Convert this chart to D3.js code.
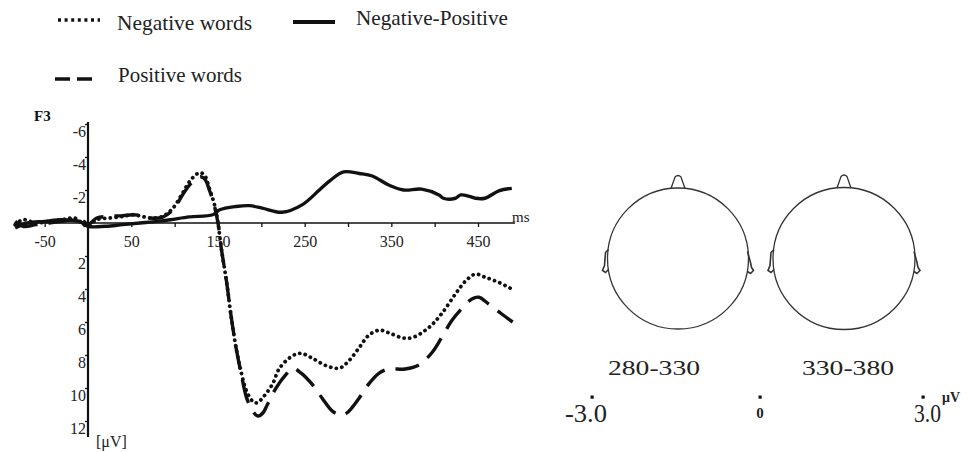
<!DOCTYPE html>
<html>
<head>
<meta charset="utf-8">
<script src="https://cdn.jsdelivr.net/npm/d3@7"></script>
<style>
  body { margin: 0; background: #fff; }
  svg { display: block; font-family: "Liberation Serif", "DejaVu Serif", serif; }
</style>
</head>
<body>
<svg id="chart" width="968" height="452"></svg>
<script>
// ERP at F3, time in ms, amplitude in microvolts (negative up)
var negWords = [
  [-84, 0.1], [-75, -0.2], [-60, 0], [-45, -0.1], [-30, -0.2], [-15, -0.3], [-5, 0.1], [0, 0.2],
  [10, -0.2], [25, -0.3], [40, -0.4], [52, -0.5], [62, -0.4], [72, -0.3], [86, -0.4], [98, -0.9],
  [109, -1.8], [117, -2.5], [125, -2.95], [130, -3.05], [135, -2.85], [140, -2.1], [146, -1.1],
  [150, 0], [154, 1.6], [160, 3.6], [165, 5.6], [171, 7.6], [177, 9.1], [183, 10.2], [190, 10.8],
  [195, 10.9], [203, 10.5], [213, 9.75], [221, 8.8], [236, 8.05], [246, 7.9], [259, 8.2],
  [275, 8.65], [290, 8.8], [301, 8.35], [313, 7.55], [324, 6.8], [336, 6.5], [347, 6.65],
  [362, 6.95], [374, 6.95], [393, 6.35], [408, 5.5], [424, 4.3], [436, 3.5], [447, 3.1],
  [459, 3.3], [474, 3.6], [489, 4.0]
];
var posWords = [
  [-84, -0.1], [-75, 0.2], [-60, 0.1], [-45, 0], [-30, -0.1], [-15, -0.2], [-5, -0.1], [0, 0.1],
  [10, -0.3], [25, -0.4], [40, -0.45], [52, -0.5], [62, -0.45], [72, -0.3], [86, -0.35], [98, -0.8],
  [109, -1.7], [117, -2.3], [125, -2.7], [130, -2.8], [135, -2.65], [140, -2.0], [146, -1.0],
  [150, 0], [154, 1.6], [160, 3.6], [165, 5.6], [171, 7.6], [177, 9.2], [183, 10.6], [190, 11.4],
  [196, 11.7], [202, 11.5], [207, 11.0], [217, 10.0], [229, 9.15], [236, 8.8], [246, 9.1],
  [259, 9.8], [270, 10.6], [282, 11.4], [292, 11.65], [299, 11.5], [313, 10.6], [324, 9.75],
  [336, 9.1], [347, 8.85], [366, 8.85], [382, 8.6], [397, 7.85], [408, 6.95], [420, 5.9],
  [431, 5.2], [443, 4.6], [451, 4.5], [462, 4.9], [477, 5.5], [490, 6.0]
];
var diffWave = [
  [-84, 0.3], [-70, 0], [-50, -0.1], [-30, -0.2], [-10, -0.1], [0, 0.2], [20, 0.2], [40, 0.1],
  [60, 0], [80, -0.1], [95, -0.2], [117, -0.37], [144, -0.5], [152, -0.8], [171, -1.0],
  [186, -1.05], [201, -0.9], [224, -0.65], [247, -1.1], [267, -2.0], [280, -2.6], [295, -3.1],
  [313, -3.0], [328, -2.85], [347, -2.3], [364, -2.0], [385, -2.05], [405, -1.7], [410, -1.5],
  [424, -1.5], [430, -1.7], [441, -1.6], [447, -1.5], [458, -1.5], [474, -1.95], [489, -2.1]
];

var xTicks = [-50, 0, 50, 100, 150, 200, 250, 300, 350, 400, 450];
var xLabels = [-50, 50, 150, 250, 350, 450];
var yTicks = [-6, -4, -2, 2, 4, 6, 8, 10, 12];

var mapLabels = ["280-330", "330-380"];
var scaleLabels = ["-3.0", "0", "3.0"];

var svg = d3.select("#chart");
svg.append("rect").attr("width", 968).attr("height", 452).attr("fill", "#fff");

var x = d3.scaleLinear().domain([0, 450]).range([88, 478]);
var y = d3.scaleLinear().domain([0, 12]).range([223, 421]);

// axes lines
svg.append("line").attr("x1", x(-84)).attr("x2", 515).attr("y1", y(0)).attr("y2", y(0))
  .attr("stroke", "#111").attr("stroke-width", 1.6);
svg.append("line").attr("x1", x(0)).attr("x2", x(0)).attr("y1", 122).attr("y2", 437)
  .attr("stroke", "#111").attr("stroke-width", 2.2);

var xAxis = d3.axisBottom(x).tickValues(xTicks).tickSize(4)
  .tickFormat(d => xLabels.indexOf(d) >= 0 ? d : "");
var gx = svg.append("g").attr("transform", "translate(0," + y(0) + ")").call(xAxis);
gx.select(".domain").remove();
gx.selectAll("line").attr("stroke", "#111").attr("stroke-width", 1.3);
gx.selectAll("text").attr("y", 24).attr("dy", null)
  .attr("font-family", "Liberation Serif").attr("font-size", 16).attr("fill", "#222");

var yAxis = d3.axisLeft(y).tickValues(yTicks).tickSize(3).tickFormat(d => d);
var gy = svg.append("g").attr("transform", "translate(" + x(0) + ",0)").call(yAxis);
gy.select(".domain").remove();
gy.selectAll("line").attr("stroke", "#111").attr("stroke-width", 1.3);
gy.selectAll("text").attr("x", -2).attr("dy", null).attr("y", 12)
  .attr("font-family", "Liberation Serif").attr("font-size", 16).attr("fill", "#222");

svg.append("text").attr("x", 512).attr("y", 222).attr("font-size", 15).attr("fill", "#222").text("ms");
svg.append("text").attr("x", 96).attr("y", 447).attr("font-size", 16).attr("fill", "#222").text("[μV]");
svg.append("text").attr("x", 34).attr("y", 121).attr("font-size", 15).attr("font-weight", "bold")
  .attr("fill", "#111").text("F3");

// waves
var line = d3.line().x(d => x(d[0])).y(d => y(d[1])).curve(d3.curveCatmullRom.alpha(0.5));

svg.append("path").datum(posWords).attr("d", line).attr("fill", "none")
  .attr("stroke", "#111").attr("stroke-width", 3.4).attr("stroke-dasharray", "24,11");
svg.append("path").datum(negWords).attr("d", line).attr("fill", "none")
  .attr("stroke", "#111").attr("stroke-width", 3.8).attr("stroke-linecap", "round")
  .attr("stroke-dasharray", "0.1,5.6");
svg.append("path").datum(diffWave).attr("d", line).attr("fill", "none")
  .attr("stroke", "#111").attr("stroke-width", 3.4).attr("stroke-linejoin", "round");

// legend
var legend = svg.append("g").attr("fill", "#222").attr("font-size", 22);
legend.append("line").attr("x1", 58).attr("x2", 100).attr("y1", 20).attr("y2", 20)
  .attr("stroke", "#111").attr("stroke-width", 3.4).attr("stroke-dasharray", "3,3.6");
legend.append("text").attr("x", 117).attr("y", 30).attr("textLength", 135)
  .attr("lengthAdjust", "spacingAndGlyphs").text("Negative words");
legend.append("line").attr("x1", 293).attr("x2", 335).attr("y1", 22).attr("y2", 22)
  .attr("stroke", "#111").attr("stroke-width", 4);
legend.append("text").attr("x", 356).attr("y", 25).attr("textLength", 152)
  .attr("lengthAdjust", "spacingAndGlyphs").text("Negative-Positive");
legend.append("line").attr("x1", 55).attr("x2", 92).attr("y1", 79).attr("y2", 79)
  .attr("stroke", "#111").attr("stroke-width", 3.6).attr("stroke-dasharray", "15,7");
legend.append("text").attr("x", 118).attr("y", 82).attr("textLength", 124)
  .attr("lengthAdjust", "spacingAndGlyphs").text("Positive words");

// scalp maps (outline only)
var heads = [
  { cx: 678, cy: 258.5, r: 70.5, lx: 654 },
  { cx: 844, cy: 258.5, r: 71, lx: 848 }
];
heads.forEach(function (h, i) {
  var g = svg.append("g").attr("fill", "none").attr("stroke", "#333").attr("stroke-width", 1.3);
  g.append("circle").attr("cx", h.cx).attr("cy", h.cy).attr("r", h.r);
  var top = h.cy - h.r;
  g.append("path").attr("d",
    "M" + (h.cx - 7) + "," + (top + 0.5) + " L" + (h.cx - 3) + "," + (top - 11) +
    " Q" + h.cx + "," + (top - 14) + " " + (h.cx + 3) + "," + (top - 11) +
    " L" + (h.cx + 7) + "," + (top + 0.5));
  var lx = h.cx - h.r, rx = h.cx + h.r;
  g.append("path").attr("stroke-width", 1.6).attr("d",
    "M" + (lx + 1) + "," + (h.cy - 9) + " L" + (lx - 2) + "," + (h.cy - 6) + " L" + (lx - 3) + "," + (h.cy + 7) +
    " L" + (lx - 5) + "," + (h.cy + 12) + " L" + (lx - 2) + "," + (h.cy + 14) + " L" + (lx + 1) + "," + (h.cy + 11));
  g.append("path").attr("stroke-width", 1.6).attr("d",
    "M" + (rx - 1) + "," + (h.cy - 7) + " L" + (rx + 2) + "," + (h.cy + 4) + " L" + (rx + 3) + "," + (h.cy + 9) +
    " L" + (rx + 5) + "," + (h.cy + 12) + " L" + (rx + 2) + "," + (h.cy + 15) + " L" + (rx - 1) + "," + (h.cy + 13));
  svg.append("text").attr("x", h.lx).attr("y", 375).attr("text-anchor", "middle")
    .attr("font-size", 22).attr("fill", "#222")
    .attr("textLength", 92).attr("lengthAdjust", "spacingAndGlyphs").text(mapLabels[i]);
});

// colour scale ticks
var scaleX = [592, 760, 923];
scaleX.forEach(function (sx) {
  svg.append("rect").attr("x", sx - 1.5).attr("y", 395.5).attr("width", 3.2).attr("height", 3.2).attr("fill", "#111");
});
svg.append("text").attr("x", 565).attr("y", 422).attr("font-size", 25).attr("fill", "#222")
  .attr("textLength", 42).attr("lengthAdjust", "spacingAndGlyphs").text(scaleLabels[0]);
svg.append("text").attr("x", 760).attr("y", 418).attr("text-anchor", "middle").attr("font-size", 15)
  .attr("font-weight", "bold").attr("fill", "#222").text(scaleLabels[1]);
svg.append("text").attr("x", 914).attr("y", 422).attr("font-size", 25).attr("fill", "#222")
  .attr("textLength", 27).attr("lengthAdjust", "spacingAndGlyphs").text(scaleLabels[2]);
svg.append("text").attr("x", 942).attr("y", 402).attr("font-size", 14).attr("font-weight", "bold")
  .attr("fill", "#222").text("μV");
</script>
</body>
</html>
